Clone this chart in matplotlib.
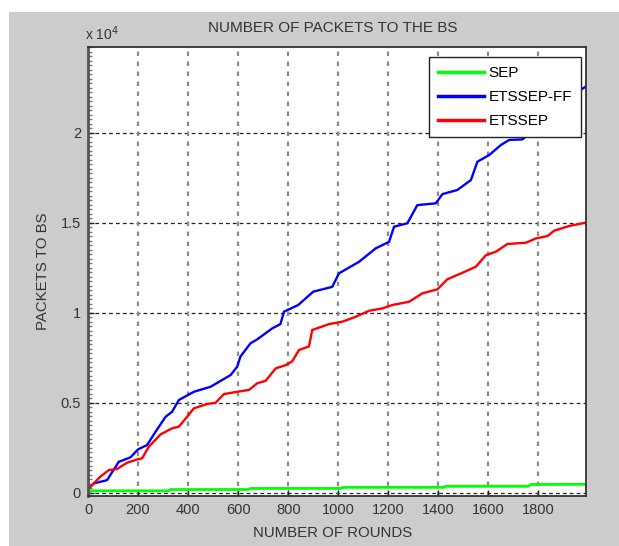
import matplotlib.pyplot as plt
from matplotlib.patches import Rectangle
from matplotlib.ticker import FuncFormatter, MultipleLocator

# packets to the BS vs. number of rounds
rounds_ff = [0, 23, 76, 123, 170, 200, 236, 270, 310, 336, 363, 423, 490, 570, 596, 609,
             649, 676, 736, 769, 783, 840, 900, 976, 1003, 1083, 1150, 1203, 1223, 1276,
             1316, 1390, 1416, 1476, 1530, 1556, 1603, 1650, 1683, 1736, 1800, 1850,
             1900, 1950, 1987]
packets_ff = [200, 520, 700, 1720, 1970, 2410, 2650, 3390, 4220, 4500, 5150, 5610, 5890,
              6540, 7000, 7560, 8300, 8520, 9130, 9370, 10060, 10430, 11170, 11440, 12190,
              12830, 13580, 13940, 14780, 14970, 15980, 16080, 16590, 16820, 17370, 18390,
              18760, 19320, 19600, 19630, 20400, 21000, 21600, 22200, 22550]

rounds_et = [0, 23, 49, 83, 116, 156, 196, 216, 243, 290, 336, 363, 396, 423, 476, 510,
             543, 596, 643, 676, 710, 750, 790, 816, 843, 883, 896, 963, 1016, 1070, 1123,
             1176, 1216, 1283, 1336, 1396, 1436, 1496, 1550, 1590, 1630, 1676, 1750, 1790,
             1836, 1863, 1923, 1987]
packets_et = [200, 520, 890, 1260, 1320, 1670, 1850, 1910, 2560, 3240, 3580, 3670, 4220,
              4690, 4930, 5000, 5480, 5610, 5710, 6080, 6220, 6910, 7090, 7300, 7930, 8130,
              9040, 9370, 9500, 9780, 10110, 10240, 10430, 10610, 11080, 11300, 11860,
              12220, 12560, 13200, 13390, 13820, 13890, 14130, 14260, 14560, 14820, 15000]

rounds_sep = [0, 320, 330, 640, 650, 1010, 1020, 1420, 1430, 1760, 1770, 1985]
packets_sep = [110, 110, 180, 180, 240, 240, 300, 300, 360, 360, 460, 470]

plt.rcParams['font.family'] = ['Liberation Sans', 'DejaVu Sans']

fig = plt.figure(figsize=(6.19, 5.46), dpi=100)
fig.patch.set_facecolor('white')
fig.patches.append(Rectangle((9 / 619, 0), 1, 1 - 12 / 546, transform=fig.transFigure,
                             facecolor='#cccccc', edgecolor='none', zorder=-10))

ax = fig.add_axes([88 / 619, 50 / 546, 498 / 619, 449.3 / 546])
ax.set_facecolor('white')

ax.plot(rounds_sep, packets_sep, color='#00ff00', lw=2.0, label='SEP')
ax.plot(rounds_ff, packets_ff, color='#0000ff', lw=1.7, label='ETSSEP-FF')
ax.plot(rounds_et, packets_et, color='#ff0000', lw=1.7, label='ETSSEP')

ax.set_xlim(0, 1990)
ax.set_ylim(-180, 24780)
ax.set_xticks(range(0, 2000, 200))
ax.set_yticks([0, 5000, 10000, 15000, 20000])
ax.yaxis.set_major_formatter(FuncFormatter(lambda v, p: '%g' % (v / 1e4)))
ax.yaxis.set_minor_locator(MultipleLocator(250))

for y in [0, 5000, 10000, 15000, 20000]:
    ax.axhline(y, color='#222222', lw=0.9, ls=(0, (3, 2.5)), zorder=1)
for x in range(200, 2000, 200):
    ax.axvline(x, color='#8a8a8a', lw=1.6, ls=(0, (2, 2.5)), zorder=1)

ax.tick_params(axis='both', which='major', direction='in', length=4, width=1,
               labelsize=10.5, colors='#222222', pad=5)
ax.tick_params(axis='y', which='minor', direction='in', length=3, width=1, color='#777777')
for lbl in ax.get_xticklabels() + ax.get_yticklabels():
    lbl.set_color('#333333')
for s in ax.spines.values():
    s.set_color('#333333')
    s.set_linewidth(1.3)
ax.spines['left'].set_linewidth(2.0)
ax.spines['left'].set_color('#555555')

fig.text(333 / 619, 1 - 28 / 546, 'NUMBER OF PACKETS TO THE BS', ha='center', va='center',
         fontsize=11, color='#333333')
fig.text(333 / 619, 1 - 533 / 546, 'NUMBER OF ROUNDS', ha='center', va='center',
         fontsize=10.8, color='#333333')
fig.text(43 / 619, 1 - 271 / 546, 'PACKETS TO BS', ha='center', va='center', rotation=90,
         fontsize=10.8, color='#333333')
fig.text(85 / 619, 1 - 34 / 546, r'x 10$^{4}$', ha='left', va='center', fontsize=10,
         color='#333333')

leg = ax.legend(loc='upper right', bbox_to_anchor=(0.99, 0.977), borderaxespad=0,
                fontsize=11, handlelength=3.0, handletextpad=0.3, labelspacing=0.65,
                borderpad=0.6, fancybox=False, framealpha=1, edgecolor='#222222')
leg.get_frame().set_linewidth(1.0)
for line in leg.get_lines():
    line.set_linewidth(2.5)

fig.savefig('out.png', dpi=100)
